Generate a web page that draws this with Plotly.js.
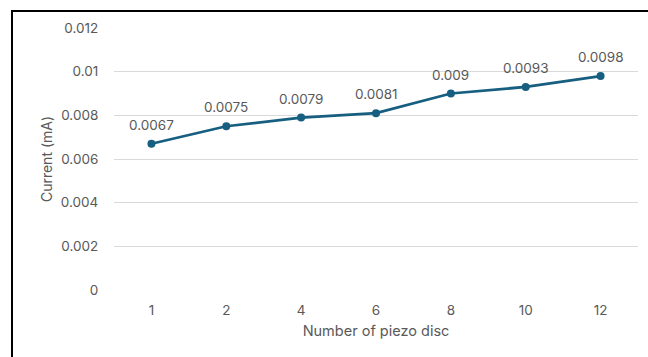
<!DOCTYPE html>
<html>
<head>
<meta charset="utf-8">
<script src="https://cdn.plot.ly/plotly-3.0.1.min.js"></script>
<style>
  html, body { margin: 0; padding: 0; background: #ffffff; }
  #wrap { position: relative; width: 648px; height: 357px; overflow: hidden; }
  #chart { position: absolute; left: 0; top: 0; width: 648px; height: 357px; }
  #frame { position: absolute; left: 11px; top: 10px; width: 660px; height: 400px;
           border-left: 2px solid #000; border-top: 2px solid #000; pointer-events: none; }
</style>
</head>
<body>
<div id="wrap">
  <div id="chart"></div>
  <div id="frame"></div>
</div>
<script>
// Number of piezo discs (category axis) and measured current in mA
const discCounts = ['1', '2', '4', '6', '8', '10', '12'];
const currentMA = [0.0067, 0.0075, 0.0079, 0.0081, 0.009, 0.0093, 0.0098];
const currentLabels = ['0.0067', '0.0075', '0.0079', '0.0081', '0.009', '0.0093', '0.0098'];

const yTickVals = [0, 0.002, 0.004, 0.006, 0.008, 0.01, 0.012];
const yTickText = ['0', '0.002', '0.004', '0.006', '0.008', '0.01', '0.012'];

const lineColor = '#175f80';
const textGray = '#595959';
const fontFamily = 'Inter, "Open Sans", sans-serif';

const trace = {
  type: 'scatter',
  mode: 'lines+markers',
  x: discCounts,
  y: currentMA,
  line: { color: lineColor, width: 2.75 },
  marker: { color: lineColor, size: 8 },
  cliponaxis: false,
  hoverinfo: 'x+y'
};

// value labels sit above each point (annotation x on a category axis = category index)
const valueLabels = discCounts.map((c, i) => ({
  x: i,
  y: currentMA[i],
  xref: 'x',
  yref: 'y',
  text: currentLabels[i],
  showarrow: false,
  yshift: 19,
  font: { family: fontFamily, size: 13.5, color: textGray }
}));

const layout = {
  width: 648,
  height: 357,
  margin: { l: 114, r: 10, t: 28, b: 67 },
  paper_bgcolor: '#ffffff',
  plot_bgcolor: '#ffffff',
  showlegend: false,
  font: { family: fontFamily, color: textGray },
  annotations: valueLabels,
  xaxis: {
    type: 'category',
    range: [-0.5, 6.5],
    showgrid: false,
    zeroline: false,
    showline: false,
    ticks: 'outside',
    ticklen: 8,
    tickcolor: 'rgba(0,0,0,0)',
    tickfont: { family: fontFamily, size: 13.5, color: textGray },
    title: { text: 'Number of piezo disc', font: { family: fontFamily, size: 14.5, color: textGray }, standoff: 8 }
  },
  yaxis: {
    range: [0, 0.012],
    tickvals: yTickVals,
    ticktext: yTickText,
    showgrid: true,
    gridcolor: '#d9d9d9',
    gridwidth: 1,
    zeroline: false,
    showline: false,
    ticks: 'outside',
    ticklen: 12,
    tickcolor: 'rgba(0,0,0,0)',
    tickfont: { family: fontFamily, size: 13.5, color: textGray },
    title: { text: 'Current (mA)', font: { family: fontFamily, size: 14, color: textGray }, standoff: 4 }
  }
};

Plotly.newPlot('chart', [trace], layout, { displayModeBar: false, staticPlot: true });
</script>
</body>
</html>
